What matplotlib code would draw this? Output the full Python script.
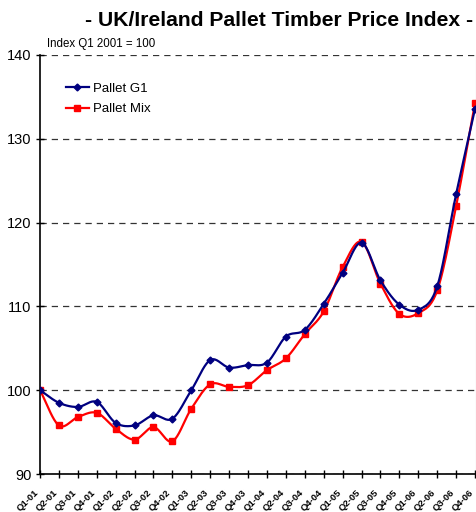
import numpy as np
import matplotlib
matplotlib.use("Agg")
import matplotlib.pyplot as plt
from matplotlib.lines import Line2D
import matplotlib.transforms as mtransforms

plt.rcParams['font.family'] = ['Liberation Sans', 'DejaVu Sans']

quarters = ["Q1-01", "Q2-01", "Q3-01", "Q4-01", "Q1-02", "Q2-02", "Q3-02", "Q4-02",
            "Q1-03", "Q2-03", "Q3-03", "Q4-03", "Q1-04", "Q2-04", "Q3-04", "Q4-04",
            "Q1-05", "Q2-05", "Q3-05", "Q4-05", "Q1-06", "Q2-06", "Q3-06", "Q4-06"]
pallet_g1 = [100.0, 98.5, 98.0, 98.6, 96.1, 95.8, 97.0, 96.6,
             100.0, 103.6, 102.7, 103.0, 103.3, 106.4, 107.2, 110.3,
             114.0, 117.6, 113.1, 110.2, 109.6, 112.4, 123.4, 133.6]
pallet_mix = [100.0, 95.8, 96.8, 97.3, 95.4, 94.1, 95.6, 93.9,
              97.8, 100.7, 100.4, 100.6, 102.4, 103.8, 106.7, 109.4,
              114.7, 117.7, 112.7, 109.1, 109.2, 111.9, 122.0, 134.3]


def smooth(x, y, n=20):
    x = np.asarray(x, float)
    y = np.asarray(y, float)
    px = np.concatenate([[2 * x[0] - x[1]], x, [2 * x[-1] - x[-2]]])
    py = np.concatenate([[2 * y[0] - y[1]], y, [2 * y[-1] - y[-2]]])
    xs, ys = [], []
    t = np.linspace(0, 1, n, endpoint=False)
    for i in range(1, len(px) - 2):
        def cr(a0, a1, a2, a3):
            return 0.5 * ((2 * a1) + (-a0 + a2) * t + (2 * a0 - 5 * a1 + 4 * a2 - a3) * t ** 2
                          + (-a0 + 3 * a1 - 3 * a2 + a3) * t ** 3)
        xs.append(cr(px[i - 1], px[i], px[i + 1], px[i + 2]))
        ys.append(cr(py[i - 1], py[i], py[i + 1], py[i + 2]))
    xs.append([x[-1]])
    ys.append([y[-1]])
    return np.concatenate(xs), np.concatenate(ys)


fig = plt.figure(figsize=(4.77, 5.12), dpi=100)
ax = fig.add_axes([40 / 477, 1 - 474 / 512, 436 / 477, 419 / 512])

x = np.arange(len(quarters))
navy = "#000080"
red = "#FF0000"

sx, sy = smooth(x, pallet_mix)
ax.plot(sx, sy, color=red, lw=1.6, zorder=3)
ax.plot(x, pallet_mix, ls='none', marker='s', ms=4.5, color=red, zorder=4)
sx, sy = smooth(x, pallet_g1)
ax.plot(sx, sy, color=navy, lw=1.6, zorder=5)
ax.plot(x, pallet_g1, ls='none', marker='D', ms=3.5, color=navy, zorder=6)

ax.set_xlim(0, len(quarters) - 1 + 0.05)
ax.set_ylim(90, 140)
ax.set_yticks([90, 100, 110, 120, 130, 140])
ax.yaxis.grid(True, color='#333333', ls=(0, (5, 4)), lw=0.9)
ax.set_axisbelow(True)
ax.set_xticks(x)
ax.set_xticklabels([])
base = mtransforms.blended_transform_factory(ax.transData, ax.transAxes)
offset = mtransforms.ScaledTranslation(-6 / 100, -14 / 100, fig.dpi_scale_trans)
for i, q in zip(x, quarters):
    ax.text(i, 0, q, transform=base + offset, rotation=45, ha='right', va='top',
            rotation_mode='anchor', fontsize=6.8, fontweight='bold', clip_on=False)
ax.tick_params(axis='y', labelsize=10.5, direction='inout', length=6, width=1, pad=3)
ax.tick_params(axis='x', direction='inout', length=6, width=1, pad=4)
ax.spines['top'].set_visible(False)
ax.spines['right'].set_color('#c0c0c0')
ax.spines['left'].set_linewidth(1.2)
ax.spines['bottom'].set_linewidth(1.2)

handles = [Line2D([], [], color=navy, marker='D', ms=3.5, lw=1.6),
           Line2D([], [], color=red, marker='s', ms=4.5, lw=1.6)]
ax.legend(handles, ["Pallet G1", "Pallet Mix"], loc='upper left',
          bbox_to_anchor=(0.033, 0.962), frameon=False, fontsize=9.5,
          handlelength=1.7, handletextpad=0.3, labelspacing=0.62)

fig.text(47 / 477, 1 - 47 / 512, "Index Q1 2001 = 100", fontsize=8.3, va='baseline')
fig.text(473 / 477, 1 - 26 / 512, "- UK/Ireland Pallet Timber Price Index -",
         fontsize=15.2, fontweight='bold', ha='right', va='baseline')

fig.savefig("out.png", dpi=100)
